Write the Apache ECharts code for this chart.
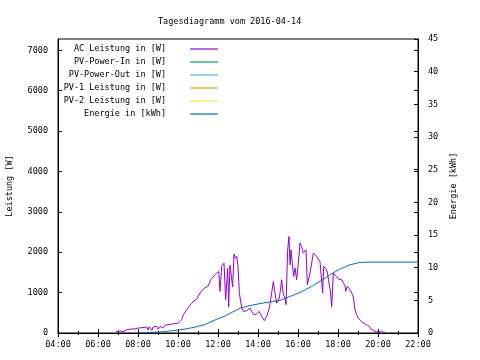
<!DOCTYPE html>
<html><head><meta charset="utf-8">
<script src="https://cdn.jsdelivr.net/npm/echarts@6/dist/echarts.min.js"></script>
<style>html,body{margin:0;padding:0;background:#fff}#c{width:480px;height:360px}</style>
</head><body><div id="c"></div>
<script>
const titleText = 'Tagesdiagramm vom 2016-04-14';
const seriesNames = ['AC Leistung in [W]', 'PV-Power-In in [W]', 'PV-Power-Out in [W]', 'PV-1 Leistung in [W]', 'PV-2 Leistung in [W]', 'Energie in [kWh]'];
const seriesColors = ['#9400d3', '#009e73', '#56b4e9', '#e69f00', '#f0e442', '#0072b2'];

const acTimes = ['06:54','07:06','07:15','07:26','07:41','07:51','08:01','08:12','08:26','08:30','08:33','08:42','08:45','08:56','09:00','09:06','09:15','09:21','09:41','10:01','10:11','10:16','10:26','10:41','10:56','11:06','11:16','11:31','11:38','11:51','12:01','12:03','12:06','12:11','12:18','12:23','12:29','12:32','12:36','12:41','12:44','12:48','12:52','12:56','13:00','13:04','13:11','13:16','13:26','13:36','13:41','13:48','13:56','14:04','14:11','14:19','14:26','14:34','14:41','14:46','14:51','14:56','15:04','15:11','15:16','15:21','15:24','15:29','15:33','15:36','15:39','15:43','15:47','15:51','15:56','16:01','16:06','16:11','16:16','16:21','16:24','16:28','16:31','16:36','16:41','16:46','16:51','16:56','17:01','17:06','17:11','17:14','17:17','17:21','17:26','17:29','17:34','17:38','17:41','17:46','17:51','17:56','18:01','18:11','18:16','18:21','18:23','18:28','18:36','18:44','18:48','18:51','18:56','19:01','19:08','19:16','19:26','19:34','19:39','19:46','19:56','20:11','20:21'];
const acValues = [40,50,30,80,100,100,125,130,150,70,150,70,150,165,100,165,120,190,220,245,330,450,575,740,840,990,1090,1170,1320,1440,1525,1450,1030,1650,1730,825,1600,640,1680,1700,1140,1960,1850,1900,1650,1000,620,535,550,620,535,450,475,535,410,305,410,620,990,1275,990,740,865,1320,950,865,700,2060,2390,1690,2060,1730,1400,1610,1320,1730,2230,2140,1980,1940,2060,1195,1155,1485,1440,1980,1940,1895,1855,1770,1730,990,1650,1610,1565,1440,1400,990,640,1485,1525,1400,1335,1320,1240,1170,1030,1155,1070,950,780,575,450,370,305,245,205,165,100,65,30,30,20];

const energyTimes = ['08:04','08:36','09:15','09:51','10:21','10:51','11:21','11:51','12:21','12:51','13:06','13:36','14:06','14:36','15:06','15:36','16:06','16:36','17:06','17:36','18:06','18:36','19:06','19:36','22:00'];
const energyValues = [0.05,0.08,0.2,0.4,0.6,0.9,1.3,2.0,2.6,3.4,3.8,4.2,4.5,4.75,5.0,5.6,6.2,7.0,7.9,8.9,9.8,10.45,10.8,10.85,10.85];

const leftAxisName = 'Leistung [W]';
const rightAxisName = 'Energie [kWh]';

function toHours(t){ const p = t.split(':'); return +p[0] + (+p[1])/60; }
function pad2(n){ return (n < 10 ? '0' : '') + n; }

const FONT = 'DejaVu Sans Mono';
const FS = 8.5;
const txt = { fontFamily: FONT, fontSize: FS, color: '#000' };

const chart = echarts.init(document.getElementById('c'), null, { renderer: 'canvas' });

const series = seriesNames.map((name, i) => {
  let data = [];
  let yIdx = 0;
  if (i === 0) data = acTimes.map((t, k) => [toHours(t), acValues[k]]);
  if (i === 5) { data = energyTimes.map((t, k) => [toHours(t), energyValues[k]]); yIdx = 1; }
  return {
    name, type: 'line', data, xAxisIndex: 0, yAxisIndex: yIdx,
    showSymbol: false, symbol: 'none', animation: false,
    lineStyle: { width: 1, color: seriesColors[i] },
    itemStyle: { color: seriesColors[i] }
  };
});

chart.setOption({
  animation: false,
  backgroundColor: '#fff',
  title: { text: titleText, left: 153, top: 12, textStyle: Object.assign({ fontWeight: 'normal' }, txt) },
  legend: {
    orient: 'vertical', align: 'right', right: 262, top: 42.5, padding: 0,
    itemGap: 0, itemWidth: 28, itemHeight: 1.2, icon: 'rect',
    textStyle: Object.assign({ lineHeight: 13, padding: [0, 19, 0, 0] }, txt),
    data: seriesNames, selectedMode: false
  },
  grid: { left: 58, right: 62, top: 39, bottom: 27, show: true, borderColor: '#000', borderWidth: 1,
          containLabel: false, outerBoundsMode: 'none' },
  xAxis: [
    { type: 'value', min: 4, max: 22, interval: 2, position: 'bottom',
      axisLine: { show: true, lineStyle: { color: '#000', width: 1 } },
      axisTick: { show: true, inside: true, length: 4, lineStyle: { color: '#000' } },
      minorTick: { show: true, splitNumber: 2, length: 2, lineStyle: { color: '#000' } },
      splitLine: { show: false },
      axisLabel: Object.assign({ margin: 7, formatter: v => pad2(v) + ':00' }, txt) },
    { type: 'value', min: 4, max: 22, interval: 2, position: 'top',
      axisLine: { show: true, lineStyle: { color: '#000', width: 1 } },
      axisTick: { show: true, inside: true, length: 4, lineStyle: { color: '#000' } },
      minorTick: { show: true, splitNumber: 2, length: 2, lineStyle: { color: '#000' } },
      splitLine: { show: false }, axisLabel: { show: false } }
  ],
  yAxis: [
    { type: 'value', min: 0, max: 7280, interval: 1000, position: 'left',
      name: leftAxisName, nameLocation: 'middle', nameGap: 44, nameRotate: 90,
      nameTextStyle: txt,
      axisLine: { show: true, lineStyle: { color: '#000', width: 1 } },
      axisTick: { show: true, inside: true, length: 4, lineStyle: { color: '#000' } },
      splitLine: { show: false },
      axisLabel: Object.assign({ margin: 10, showMaxLabel: false, formatter: v => (v % 1000 === 0 ? String(v) : '') }, txt) },
    { type: 'value', min: 0, max: 45, interval: 5, position: 'right',
      name: rightAxisName, nameLocation: 'middle', nameGap: 31, nameRotate: 90,
      nameTextStyle: txt,
      axisLine: { show: true, lineStyle: { color: '#000', width: 1 } },
      axisTick: { show: true, inside: true, length: 4, lineStyle: { color: '#000' } },
      splitLine: { show: false },
      axisLabel: Object.assign({ margin: 10 }, txt) },
    { type: 'value', min: 0, max: 7280, interval: 1000, position: 'right',
      axisLine: { show: false },
      axisTick: { show: true, inside: true, length: 4, lineStyle: { color: '#000' } },
      splitLine: { show: false }, axisLabel: { show: false } }
  ],
  series
});
</script>
</body></html>
